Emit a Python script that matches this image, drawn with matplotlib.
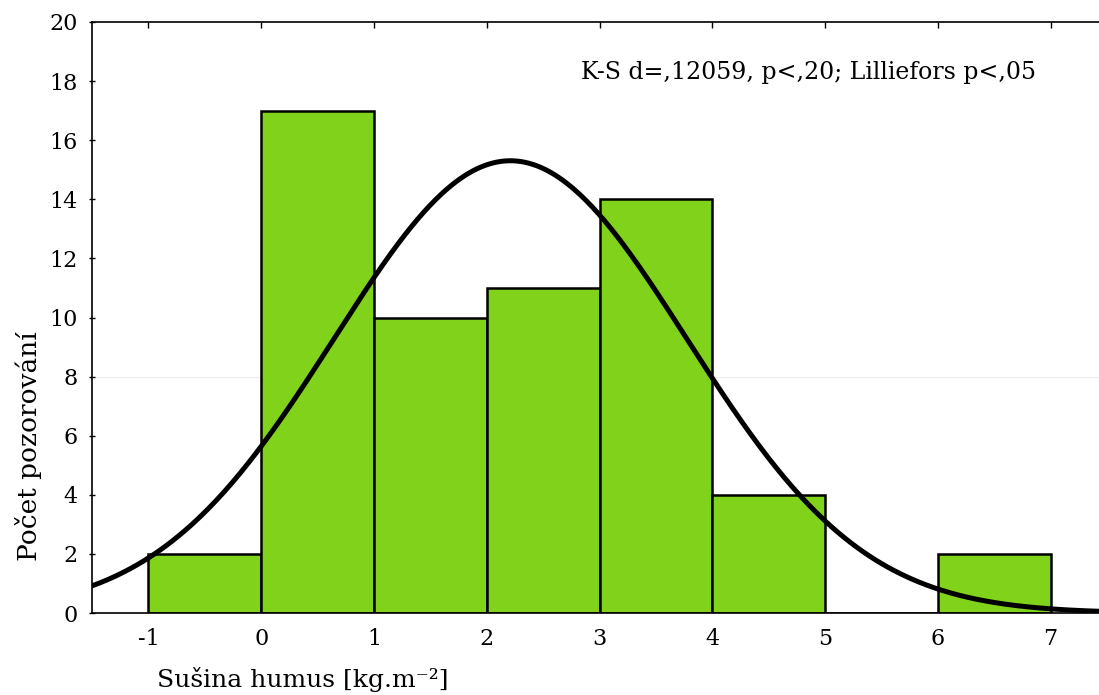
import numpy as np
import matplotlib
matplotlib.use("Agg")
import matplotlib.pyplot as plt

# Data
bin_edges = [-1, 0, 1, 2, 3, 4, 5, 6, 7]
counts = [2, 17, 10, 11, 14, 4, 0, 2]
fit_mean = 2.21
fit_sd = 1.564
n_obs = sum(counts)
x_ticks = [-1, 0, 1, 2, 3, 4, 5, 6, 7]
y_ticks = [0, 2, 4, 6, 8, 10, 12, 14, 16, 18, 20]
annotation = "K-S d=,12059, p<,20; Lilliefors p<,05"
xlabel = "Sušina humus [kg.m⁻²]"
ylabel = "Počet pozorování"

fams = ["DejaVu Serif"]
plt.rcParams['font.family'] = fams

fig = plt.figure(figsize=(10.99, 6.95), dpi=100)
ax = fig.add_axes([92/1099, 82/695, 1015/1099, 591/695])

ax.axhline(8, color="#eeeeee", lw=0.8, zorder=0)

lefts = bin_edges[:-1]
widths = np.diff(bin_edges)
ax.bar(lefts, counts, width=widths, align='edge', color="#80d21a",
       edgecolor="black", linewidth=1.8, zorder=2)

xs = np.linspace(-1.5, 7.5, 500)
bw = 1.0
ys = n_obs * bw / (fit_sd * np.sqrt(2 * np.pi)) * np.exp(-0.5 * ((xs - fit_mean) / fit_sd) ** 2)
ax.plot(xs, ys, color="black", lw=3.6, zorder=3, solid_capstyle='butt')

ax.set_xlim(-1.5, 7.5)
ax.set_ylim(0, 20)
ax.set_xticks(x_ticks)
ax.set_xticklabels([str(t) for t in x_ticks])
ax.set_yticks(y_ticks)
ax.set_yticklabels([str(t) for t in y_ticks])

ax.tick_params(axis='x', top=True, bottom=False, labelbottom=True,
               direction='in', length=4, width=1, labelsize=16, pad=11)
ax.tick_params(axis='y', direction='inout', length=5, width=1, labelsize=16, pad=8)

for s in ax.spines.values():
    s.set_linewidth(1.2)

ax.text(6.87, 18.3, annotation, ha='right', va='center', fontsize=17)

fig.text(157/1099, 1 - 680/695, xlabel, ha='left', va='center', fontsize=18)
fig.text(29/1099, 1 - 446/695, ylabel, ha='center', va='center', rotation=90, fontsize=19)

fig.savefig("out.png", dpi=100)
